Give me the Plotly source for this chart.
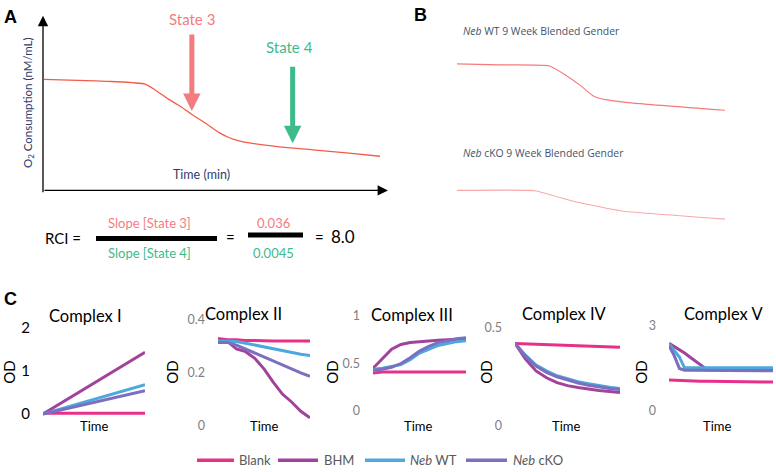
import plotly.graph_objects as go

W, H = 776, 472
def fx(p): return p / W
def fy(p): return 1 - p / H

FONT = "Lato"

# ---------------- Data ----------------
# Panel A: O2 consumption trace
a_time = [0, 10, 20, 30, 33, 37, 40, 44, 48, 52, 55, 58, 62, 70, 80, 90, 100]
a_o2 = [65, 64.5, 63.8, 62.3, 59, 53.5, 50, 44.5, 39.5, 34, 31, 29, 27.5, 25.5, 23.8, 22, 20]
state3_t, state4_t = 44, 74

rci_num, rci_den, rci_val = "0.036", "0.0045", "8.0"

# Panel B traces
b_wt_time = [0, 16, 34.2, 39.7, 45.9, 50.9, 55.9, 65.8, 100]
b_wt_o2 = [60, 59, 58, 50, 38.3, 27.3, 23.3, 20, 12.7]
b_cko_time = [0, 29.1, 43.4, 61.5, 100]
b_cko_o2 = [41, 40.7, 30, 20, 11.7]

# Panel C: complexes
series_names = ["Blank", "BHM", "<i>Neb</i> WT", "<i>Neb</i> cKO"]
series_colors = ["#E8308A", "#A0439B", "#4EA8DE", "#7B6FBF"]

t11 = [0, 10, 20, 30, 40, 50, 60, 70, 80, 90, 100]

c1_time = [0, 50, 100]
c1 = {
    "Blank": [0.02, 0.02, 0.02],
    "BHM": [0.0, 0.72, 1.43],
    "<i>Neb</i> WT": [0.0, 0.34, 0.68],
    "<i>Neb</i> cKO": [0.0, 0.27, 0.54],
}
c2 = {
    "Blank": [0.33, 0.325, 0.325, 0.322, 0.322, 0.32, 0.32, 0.32, 0.32, 0.32, 0.32],
    "BHM": [0.325, 0.32, 0.29, 0.28, 0.255, 0.215, 0.165, 0.12, 0.09, 0.055, 0.03],
    "<i>Neb</i> WT": [0.32, 0.32, 0.318, 0.312, 0.305, 0.298, 0.29, 0.283, 0.277, 0.27, 0.265],
    "<i>Neb</i> cKO": [0.315, 0.315, 0.305, 0.29, 0.272, 0.258, 0.243, 0.23, 0.215, 0.2, 0.187],
}
c3 = {
    "Blank": [0.40, 0.41, 0.41, 0.41, 0.41, 0.41, 0.41, 0.41, 0.41, 0.41, 0.41],
    "BHM": [0.45, 0.55, 0.65, 0.70, 0.72, 0.73, 0.74, 0.745, 0.75, 0.755, 0.76],
    "<i>Neb</i> WT": [0.44, 0.45, 0.47, 0.49, 0.54, 0.61, 0.65, 0.69, 0.71, 0.73, 0.74],
    "<i>Neb</i> cKO": [0.43, 0.44, 0.46, 0.50, 0.56, 0.63, 0.68, 0.72, 0.74, 0.76, 0.77],
}
c4 = {
    "Blank": [0.42, 0.418, 0.415, 0.413, 0.41, 0.408, 0.406, 0.404, 0.402, 0.401, 0.40],
    "BHM": [0.42, 0.34, 0.28, 0.245, 0.22, 0.205, 0.195, 0.187, 0.18, 0.175, 0.17],
    "<i>Neb</i> WT": [0.42, 0.36, 0.31, 0.28, 0.255, 0.24, 0.225, 0.215, 0.205, 0.197, 0.19],
    "<i>Neb</i> cKO": [0.42, 0.355, 0.305, 0.272, 0.25, 0.232, 0.218, 0.207, 0.198, 0.19, 0.185],
}
t5 = [0, 5, 10, 15, 20, 30, 37, 50, 70, 100]
c5 = {
    "Blank": [1.09, 1.08, 1.07, 1.06, 1.06, 1.05, 1.05, 1.04, 1.03, 1.02],
    "BHM": [2.38, 2.27, 2.16, 2.04, 1.9, 1.62, 1.45, 1.45, 1.45, 1.45],
    "<i>Neb</i> WT": [2.36, 2.15, 1.9, 1.52, 1.52, 1.52, 1.52, 1.52, 1.52, 1.52],
    "<i>Neb</i> cKO": [2.3, 1.95, 1.5, 1.44, 1.44, 1.44, 1.43, 1.43, 1.42, 1.42],
}
complex_titles = ["Complex I", "Complex II", "Complex III", "Complex IV", "Complex V"]
complex_data = [(c1_time, c1), (t11, c2), (t11, c3), (t11, c4), (t5, c5)]
complex_ticks = [[0, 1, 2], [0, 0.2, 0.4], [0, 0.5, 1], [0, 0.5], [0, 3]]
complex_ticktext = [["0", "1", "2"], ["0", "0.2", "0.4"], ["0", "0.5", "1"], ["0", "0.5"], ["0", "3"]]

# ---------------- Figure ----------------
fig = go.Figure()
layout = dict(width=W, height=H, margin=dict(l=0, r=0, t=0, b=0),
              paper_bgcolor="white", plot_bgcolor="rgba(0,0,0,0)",
              showlegend=False, font=dict(family=FONT, color="black"))
hidden = dict(visible=False, fixedrange=True)

# Panel A axes
layout["xaxis"] = dict(domain=[fx(44), fx(380)], range=[0, 100], anchor="y", **hidden)
layout["yaxis"] = dict(domain=[fy(189), fy(15)], range=[0, 100], anchor="x", **hidden)
fig.add_trace(go.Scatter(x=a_time, y=a_o2, mode="lines",
                         line=dict(color="#F25C4A", width=1.3, shape="spline", smoothing=0.6),
                         xaxis="x", yaxis="y"))

# Panel B axes
layout["xaxis2"] = dict(domain=[fx(457), fx(725)], range=[0, 100], anchor="y2", **hidden)
layout["yaxis2"] = dict(domain=[fy(120), fy(40)], range=[0, 80], anchor="x2", **hidden)
layout["xaxis3"] = dict(domain=[fx(457), fx(725)], range=[0, 100], anchor="y3", **hidden)
layout["yaxis3"] = dict(domain=[fy(230), fy(170)], range=[0, 60], anchor="x3", **hidden)
fig.add_trace(go.Scatter(x=b_wt_time, y=b_wt_o2, mode="lines",
                         line=dict(color="#F47A7A", width=1.1, shape="spline", smoothing=0.5),
                         xaxis="x2", yaxis="y2"))
fig.add_trace(go.Scatter(x=b_cko_time, y=b_cko_o2, mode="lines",
                         line=dict(color="#F7A9A9", width=1.1, shape="spline", smoothing=0.3),
                         xaxis="x3", yaxis="y3"))

# Panel C axes: (x_left, x_right, px at 0, px at tickmax, tickmax, range)
c_geom = [
    (43, 145, 417, 329, 2, [-0.1, 2.1]),
    (218, 310, 429, 321, 0.4, [-0.02, 0.42]),
    (373, 466, 414, 317, 1, [-0.05, 1.05]),
    (515, 620, 429, 329, 0.5, [-0.025, 0.525]),
    (669, 773, 414, 327, 3, [-0.15, 3.15]),
]
for i, (xl, xr, p0, p1, vmax, rng) in enumerate(c_geom):
    n = i + 4
    k = (p0 - p1) / vmax
    bottom = p0 - rng[0] * k
    top = p0 - rng[1] * k
    tickfont = dict(size=15, color="black") if i == 0 else dict(size=12.5, color="#7F7F7F")
    layout[f"xaxis{n}"] = dict(domain=[fx(xl), fx(xr)], range=[0, 100], anchor=f"y{n}",
                               showgrid=False, zeroline=False, showline=False,
                               showticklabels=False, ticks="", fixedrange=True)
    layout[f"yaxis{n}"] = dict(domain=[fy(bottom), fy(top)], range=rng, anchor=f"x{n}",
                               showgrid=False, zeroline=False, showline=False, ticks="",
                               tickvals=complex_ticks[i], ticktext=complex_ticktext[i],
                               tickfont=tickfont, ticklabelstandoff=12, fixedrange=True)
    tx, data = complex_data[i]
    for name, col in zip(series_names, series_colors):
        fig.add_trace(go.Scatter(x=tx, y=data[name], mode="lines", name=name,
                                 line=dict(color=col, width=3), xaxis=f"x{n}", yaxis=f"y{n}"))

annotations = []
shapes = []
def txt(x, y, s, size, color="black", xanchor="center", angle=0, family=FONT):
    annotations.append(dict(x=fx(x), y=fy(y), xref="paper", yref="paper", text=s,
                            showarrow=False, xanchor=xanchor, yanchor="middle", textangle=angle,
                            font=dict(size=size, color=color, family=family)))

# Panel labels
for lab, x, y in [("<b>A</b>", 10, 12), ("<b>B</b>", 420, 10), ("<b>C</b>", 10, 300)]:
    txt(x, y, lab, 18, family="Liberation Sans")

# Panel A axis arrows
annotations.append(dict(x=fx(388), y=fy(189), xref="paper", yref="paper", ax=-345, ay=0,
                        text="", showarrow=True, arrowhead=2, arrowsize=1.6, arrowwidth=1.3,
                        arrowcolor="black"))
annotations.append(dict(x=fx(43), y=fy(11), xref="paper", yref="paper", ax=0, ay=178,
                        text="", showarrow=True, arrowhead=2, arrowsize=1.6, arrowwidth=1.3,
                        arrowcolor="black"))
txt(28, 100, "O<sub>2</sub> Consumption (nM/mL)", 11.5, "#2F3B6B", angle=-90)
txt(201, 173, "Time (min)", 12.5, "#2F3B6B")

# State arrows
S3C, S4C = "#F47C80", "#3DBB8B"
annotations.append(dict(x=state3_t, y=46.5, xref="x", yref="y", ax=0, ay=-78, text="",
                        showarrow=True, arrowhead=2, arrowsize=0.7, arrowwidth=5, arrowcolor=S3C))
annotations.append(dict(x=state4_t, y=27.6, xref="x", yref="y", ax=0, ay=-78, text="",
                        showarrow=True, arrowhead=2, arrowsize=0.7, arrowwidth=5, arrowcolor=S4C))
txt(192, 14, "State 3", 15, S3C)
txt(289, 43, "State 4", 15, S4C)

# RCI equation
txt(63, 238, "RCI =", 15)
txt(149, 222, "Slope [State 3]", 13, S3C)
txt(149, 253, "Slope [State 4]", 13, S4C)
txt(230, 236, "=", 15)
txt(273, 222, rci_num, 13, S3C)
txt(273, 253, rci_den, 13, S4C)
txt(319, 236, "=", 15)
txt(343, 236, rci_val, 17)
shapes.append(dict(type="line", xref="paper", yref="paper", x0=fx(96), x1=fx(217), y0=fy(238), y1=fy(238),
                   line=dict(color="black", width=5)))
shapes.append(dict(type="line", xref="paper", yref="paper", x0=fx(248), x1=fx(303), y0=fy(234.5), y1=fy(234.5),
                   line=dict(color="black", width=5)))

# Panel B titles
txt(461, 27, "<i>Neb</i> WT 9 Week Blended Gender", 10.4, "#44546A", xanchor="left", family="Open Sans")
txt(461, 151, "<i>Neb</i> cKO 9 Week Blended Gender", 10.4, "#44546A", xanchor="left", family="Open Sans")

# Panel C titles, OD labels, Time labels
title_pos = [(85, 317), (243, 315), (412, 316), (564, 315), (723, 315)]
od_x = [9, 172, 332, 486, 641]
time_x = [94, 264, 418, 566, 717]
for i in range(5):
    txt(title_pos[i][0], title_pos[i][1], complex_titles[i], 16.5)
    txt(od_x[i], 375, "OD", 15, angle=-90)
    txt(time_x[i], 429, "Time", 13)

# Manual legend
leg = [(197, 234, 237), (278, 318, 322), (365, 405, 408), (466, 507, 511)]
for (l0, l1, tl), name, col in zip(leg, series_names, series_colors):
    shapes.append(dict(type="line", xref="paper", yref="paper", x0=fx(l0), x1=fx(l1),
                       y0=fy(464), y1=fy(464), line=dict(color=col, width=3.5)))
    txt(tl, 464, name, 13, "#595959", xanchor="left")

layout["annotations"] = annotations
layout["shapes"] = shapes
fig.update_layout(**layout)
fig.write_html("out.html", config={"displayModeBar": False, "staticPlot": True},
               post_script="document.body.style.margin='0';document.body.style.overflow='hidden';")
